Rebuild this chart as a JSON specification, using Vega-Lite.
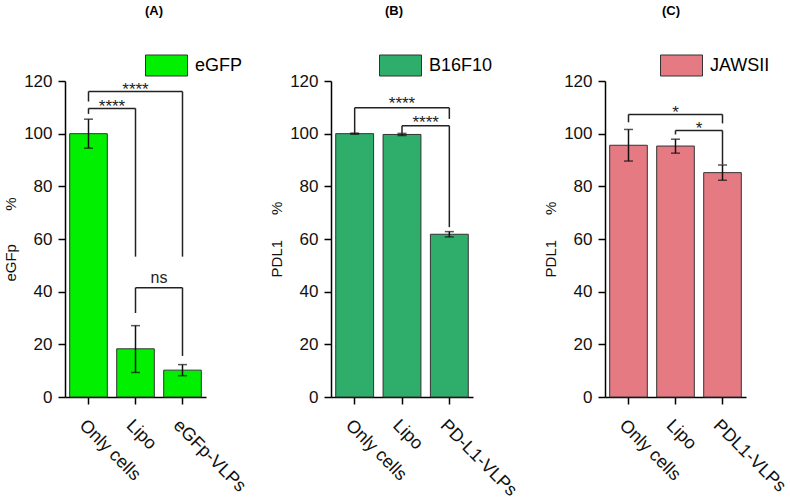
{
  "$schema": "https://vega.github.io/schema/vega-lite/v6.json",
  "padding": {"left": 3, "top": 5, "right": 5, "bottom": 5},
  "datasets": {
    "A_bars": [
      {"cat": "Only cells", "v": 100, "lo": 94.5, "hi": 105.5, "s": "eGFP"},
      {"cat": "Lipo", "v": 18.3, "lo": 9.3, "hi": 27.1, "s": "eGFP"},
      {"cat": "eGFp-VLPs", "v": 10.2, "lo": 8.1, "hi": 12.3, "s": "eGFP"}
    ],
    "A_h": [
      {"c1": "Only cells", "c2": "Lipo", "y": 109.6},
      {"c1": "Only cells", "c2": "eGFp-VLPs", "y": 116},
      {"c1": "Lipo", "c2": "eGFp-VLPs", "y": 41.5}
    ],
    "A_legs": [
      {"c": "Only cells", "y1": 107.5, "y2": 109.6},
      {"c": "Lipo", "y1": 53.3, "y2": 109.6},
      {"c": "Only cells", "y1": 112.2, "y2": 116},
      {"c": "eGFp-VLPs", "y1": 53.3, "y2": 116},
      {"c": "Lipo", "y1": 31.9, "y2": 41.5},
      {"c": "eGFp-VLPs", "y1": 15.6, "y2": 41.5}
    ],
    "A_text": [
      {"c": "Only cells", "pos": "between", "t": "****", "y": 110.3},
      {"c": "Lipo", "pos": "center", "t": "****", "y": 116.7},
      {"c": "Lipo", "pos": "between", "t": "ns", "y": 45.3}
    ],
    "B_bars": [
      {"cat": "Only cells", "v": 100, "lo": 99.8, "hi": 100.2, "s": "B16F10"},
      {"cat": "Lipo", "v": 99.7, "lo": 99.3, "hi": 100.1, "s": "B16F10"},
      {"cat": "PD-L1-VLPs", "v": 61.8, "lo": 60.8, "hi": 62.8, "s": "B16F10"}
    ],
    "B_h": [
      {"c1": "Only cells", "c2": "PD-L1-VLPs", "y": 109.8},
      {"c1": "Lipo", "c2": "PD-L1-VLPs", "y": 103}
    ],
    "B_legs": [
      {"c": "Only cells", "y1": 100.2, "y2": 109.8},
      {"c": "PD-L1-VLPs", "y1": 105.6, "y2": 109.8},
      {"c": "Lipo", "y1": 100.3, "y2": 103},
      {"c": "PD-L1-VLPs", "y1": 64.5, "y2": 103}
    ],
    "B_text": [
      {"c": "Lipo", "pos": "center", "t": "****", "y": 111.2},
      {"c": "Lipo", "pos": "between", "t": "****", "y": 103.9}
    ],
    "C_bars": [
      {"cat": "Only cells", "v": 95.6, "lo": 89.6, "hi": 101.6, "s": "JAWSII"},
      {"cat": "Lipo", "v": 95.3, "lo": 92.6, "hi": 97.9, "s": "JAWSII"},
      {"cat": "PDL1-VLPs", "v": 85.2, "lo": 82.3, "hi": 88.1, "s": "JAWSII"}
    ],
    "C_h": [
      {"c1": "Only cells", "c2": "PDL1-VLPs", "y": 107.3},
      {"c1": "Lipo", "c2": "PDL1-VLPs", "y": 101.2}
    ],
    "C_legs": [
      {"c": "Only cells", "y1": 104.3, "y2": 107.3},
      {"c": "PDL1-VLPs", "y1": 103.9, "y2": 107.3},
      {"c": "Lipo", "y1": 99.7, "y2": 101.2},
      {"c": "PDL1-VLPs", "y1": 88.3, "y2": 101.2}
    ],
    "C_text": [
      {"c": "Lipo", "pos": "center", "t": "*", "y": 107.8},
      {"c": "Lipo", "pos": "between", "t": "*", "y": 101.7}
    ]
  },
  "bounds": "flush",
  "spacing": 125,
  "resolve": {
    "scale": {"x": "independent", "y": "independent", "color": "independent"},
    "legend": {"color": "independent"}
  },
  "hconcat": [
    {
      "width": 141,
      "height": 316,
      "title": {"text": "(A)", "dx": 18.5},
      "layer": [
        {
          "data": {"name": "A_bars"},
          "mark": {"type": "bar", "stroke": "#333333", "strokeWidth": 1},
          "encoding": {
            "x": {"field": "cat", "type": "nominal", "scale": {"domain": ["Only cells", "Lipo", "eGFp-VLPs"], "paddingInner": 0.2, "paddingOuter": 0.1}, "title": null},
            "y": {"field": "v", "type": "quantitative", "scale": {"domain": [0, 120], "nice": false}, "title": "eGFp\u00a0\u00a0\u00a0\u00a0\u00a0\u00a0\u00a0\u00a0%", "axis": {"values": [0, 20, 40, 60, 80, 100, 120]}},
            "color": {"field": "s", "type": "nominal", "scale": {"range": ["#00F000"]}, "legend": {"title": null, "orient": "none", "legendX": 80, "legendY": -37}}
          }
        },
        {
          "data": {"name": "A_bars"},
          "mark": {"type": "rule", "color": "#111111", "strokeWidth": 1.5},
          "encoding": {"x": {"field": "cat", "type": "nominal", "title": null}, "y": {"field": "lo", "type": "quantitative", "title": "eGFp\u00a0\u00a0\u00a0\u00a0\u00a0\u00a0\u00a0\u00a0%"}, "y2": {"field": "hi"}}
        },
        {
          "data": {"name": "A_bars"},
          "mark": {"type": "tick", "orient": "horizontal", "size": 9, "thickness": 1.5, "color": "#111111"},
          "encoding": {"x": {"field": "cat", "type": "nominal", "title": null}, "y": {"field": "lo", "type": "quantitative", "title": "eGFp\u00a0\u00a0\u00a0\u00a0\u00a0\u00a0\u00a0\u00a0%"}}
        },
        {
          "data": {"name": "A_bars"},
          "mark": {"type": "tick", "orient": "horizontal", "size": 9, "thickness": 1.5, "color": "#111111"},
          "encoding": {"x": {"field": "cat", "type": "nominal", "title": null}, "y": {"field": "hi", "type": "quantitative", "title": "eGFp\u00a0\u00a0\u00a0\u00a0\u00a0\u00a0\u00a0\u00a0%"}}
        },
        {
          "data": {"name": "A_h"},
          "mark": {"type": "rule", "color": "#222222", "strokeWidth": 1.5},
          "encoding": {"x": {"field": "c1", "type": "nominal", "title": null}, "x2": {"field": "c2"}, "y": {"field": "y", "type": "quantitative", "title": "eGFp\u00a0\u00a0\u00a0\u00a0\u00a0\u00a0\u00a0\u00a0%"}}
        },
        {
          "data": {"name": "A_legs"},
          "mark": {"type": "rule", "color": "#222222", "strokeWidth": 1.5},
          "encoding": {"x": {"field": "c", "type": "nominal", "title": null}, "y": {"field": "y1", "type": "quantitative", "title": "eGFp\u00a0\u00a0\u00a0\u00a0\u00a0\u00a0\u00a0\u00a0%"}, "y2": {"field": "y2"}}
        },
        {
          "data": {"name": "A_text"},
          "transform": [{"filter": "datum.pos === 'center'"}],
          "mark": {"type": "text", "baseline": "middle", "font": "Liberation Sans", "fontSize": 17, "color": "#222222"},
          "encoding": {"x": {"field": "c", "type": "nominal", "title": null}, "y": {"field": "y", "type": "quantitative", "title": "eGFp\u00a0\u00a0\u00a0\u00a0\u00a0\u00a0\u00a0\u00a0%"}, "text": {"field": "t"}}
        },
        {
          "data": {"name": "A_text"},
          "transform": [{"filter": "datum.pos === 'between'"}],
          "mark": {"type": "text", "baseline": "middle", "font": "Liberation Sans", "color": "#222222"},
          "encoding": {"x": {"field": "c", "type": "nominal", "bandPosition": 1.125, "title": null}, "y": {"field": "y", "type": "quantitative", "title": "eGFp\u00a0\u00a0\u00a0\u00a0\u00a0\u00a0\u00a0\u00a0%"}, "text": {"field": "t"}, "size": {"condition": {"test": "datum.t === 'ns'", "value": 16}, "value": 17}}
        }
      ]
    },
    {
      "width": 149,
      "height": 316,
      "title": {"text": "(B)", "dx": -11.5},
      "layer": [
        {
          "data": {"name": "B_bars"},
          "mark": {"type": "bar", "stroke": "#333333", "strokeWidth": 1},
          "encoding": {
            "x": {"field": "cat", "type": "nominal", "scale": {"domain": ["Only cells", "Lipo", "PD-L1-VLPs"], "paddingInner": 0.2, "paddingOuter": 0.1, "range": [0, 142]}, "title": null},
            "y": {"field": "v", "type": "quantitative", "scale": {"domain": [0, 120], "nice": false}, "title": "PDL1\u00a0\u00a0\u00a0\u00a0\u00a0\u00a0%", "axis": {"values": [0, 20, 40, 60, 80, 100, 120]}},
            "color": {"field": "s", "type": "nominal", "scale": {"range": ["#2EAD6B"]}, "legend": {"title": null, "orient": "none", "legendX": 48, "legendY": -37}}
          }
        },
        {
          "data": {"name": "B_bars"},
          "mark": {"type": "rule", "color": "#111111", "strokeWidth": 1.5},
          "encoding": {"x": {"field": "cat", "type": "nominal", "title": null}, "y": {"field": "lo", "type": "quantitative", "title": "PDL1\u00a0\u00a0\u00a0\u00a0\u00a0\u00a0%"}, "y2": {"field": "hi"}}
        },
        {
          "data": {"name": "B_bars"},
          "mark": {"type": "tick", "orient": "horizontal", "size": 9, "thickness": 1.5, "color": "#111111"},
          "encoding": {"x": {"field": "cat", "type": "nominal", "title": null}, "y": {"field": "lo", "type": "quantitative", "title": "PDL1\u00a0\u00a0\u00a0\u00a0\u00a0\u00a0%"}}
        },
        {
          "data": {"name": "B_bars"},
          "mark": {"type": "tick", "orient": "horizontal", "size": 9, "thickness": 1.5, "color": "#111111"},
          "encoding": {"x": {"field": "cat", "type": "nominal", "title": null}, "y": {"field": "hi", "type": "quantitative", "title": "PDL1\u00a0\u00a0\u00a0\u00a0\u00a0\u00a0%"}}
        },
        {
          "data": {"name": "B_h"},
          "mark": {"type": "rule", "color": "#222222", "strokeWidth": 1.5},
          "encoding": {"x": {"field": "c1", "type": "nominal", "title": null}, "x2": {"field": "c2"}, "y": {"field": "y", "type": "quantitative", "title": "PDL1\u00a0\u00a0\u00a0\u00a0\u00a0\u00a0%"}}
        },
        {
          "data": {"name": "B_legs"},
          "mark": {"type": "rule", "color": "#222222", "strokeWidth": 1.5},
          "encoding": {"x": {"field": "c", "type": "nominal", "title": null}, "y": {"field": "y1", "type": "quantitative", "title": "PDL1\u00a0\u00a0\u00a0\u00a0\u00a0\u00a0%"}, "y2": {"field": "y2"}}
        },
        {
          "data": {"name": "B_text"},
          "transform": [{"filter": "datum.pos === 'center'"}],
          "mark": {"type": "text", "baseline": "middle", "font": "Liberation Sans", "fontSize": 17, "color": "#222222"},
          "encoding": {"x": {"field": "c", "type": "nominal", "title": null}, "y": {"field": "y", "type": "quantitative", "title": "PDL1\u00a0\u00a0\u00a0\u00a0\u00a0\u00a0%"}, "text": {"field": "t"}}
        },
        {
          "data": {"name": "B_text"},
          "transform": [{"filter": "datum.pos === 'between'"}],
          "mark": {"type": "text", "baseline": "middle", "font": "Liberation Sans", "fontSize": 17, "color": "#222222"},
          "encoding": {"x": {"field": "c", "type": "nominal", "bandPosition": 1.125, "title": null}, "y": {"field": "y", "type": "quantitative", "title": "PDL1\u00a0\u00a0\u00a0\u00a0\u00a0\u00a0%"}, "text": {"field": "t"}}
        }
      ]
    },
    {
      "width": 141,
      "height": 316,
      "title": {"text": "(C)", "dx": -4.5},
      "layer": [
        {
          "data": {"name": "C_bars"},
          "mark": {"type": "bar", "stroke": "#333333", "strokeWidth": 1},
          "encoding": {
            "x": {"field": "cat", "type": "nominal", "scale": {"domain": ["Only cells", "Lipo", "PDL1-VLPs"], "paddingInner": 0.2, "paddingOuter": 0.1}, "title": null},
            "y": {"field": "v", "type": "quantitative", "scale": {"domain": [0, 120], "nice": false}, "title": "PDL1\u00a0\u00a0\u00a0\u00a0\u00a0\u00a0%", "axis": {"values": [0, 20, 40, 60, 80, 100, 120]}},
            "color": {"field": "s", "type": "nominal", "scale": {"range": ["#E57A83"]}, "legend": {"title": null, "orient": "none", "legendX": 55, "legendY": -37}}
          }
        },
        {
          "data": {"name": "C_bars"},
          "mark": {"type": "rule", "color": "#111111", "strokeWidth": 1.5},
          "encoding": {"x": {"field": "cat", "type": "nominal", "title": null}, "y": {"field": "lo", "type": "quantitative", "title": "PDL1\u00a0\u00a0\u00a0\u00a0\u00a0\u00a0%"}, "y2": {"field": "hi"}}
        },
        {
          "data": {"name": "C_bars"},
          "mark": {"type": "tick", "orient": "horizontal", "size": 9, "thickness": 1.5, "color": "#111111"},
          "encoding": {"x": {"field": "cat", "type": "nominal", "title": null}, "y": {"field": "lo", "type": "quantitative", "title": "PDL1\u00a0\u00a0\u00a0\u00a0\u00a0\u00a0%"}}
        },
        {
          "data": {"name": "C_bars"},
          "mark": {"type": "tick", "orient": "horizontal", "size": 9, "thickness": 1.5, "color": "#111111"},
          "encoding": {"x": {"field": "cat", "type": "nominal", "title": null}, "y": {"field": "hi", "type": "quantitative", "title": "PDL1\u00a0\u00a0\u00a0\u00a0\u00a0\u00a0%"}}
        },
        {
          "data": {"name": "C_h"},
          "mark": {"type": "rule", "color": "#222222", "strokeWidth": 1.5},
          "encoding": {"x": {"field": "c1", "type": "nominal", "title": null}, "x2": {"field": "c2"}, "y": {"field": "y", "type": "quantitative", "title": "PDL1\u00a0\u00a0\u00a0\u00a0\u00a0\u00a0%"}}
        },
        {
          "data": {"name": "C_legs"},
          "mark": {"type": "rule", "color": "#222222", "strokeWidth": 1.5},
          "encoding": {"x": {"field": "c", "type": "nominal", "title": null}, "y": {"field": "y1", "type": "quantitative", "title": "PDL1\u00a0\u00a0\u00a0\u00a0\u00a0\u00a0%"}, "y2": {"field": "y2"}}
        },
        {
          "data": {"name": "C_text"},
          "transform": [{"filter": "datum.pos === 'center'"}],
          "mark": {"type": "text", "baseline": "middle", "font": "Liberation Sans", "fontSize": 17, "color": "#222222"},
          "encoding": {"x": {"field": "c", "type": "nominal", "title": null}, "y": {"field": "y", "type": "quantitative", "title": "PDL1\u00a0\u00a0\u00a0\u00a0\u00a0\u00a0%"}, "text": {"field": "t"}}
        },
        {
          "data": {"name": "C_text"},
          "transform": [{"filter": "datum.pos === 'between'"}],
          "mark": {"type": "text", "baseline": "middle", "font": "Liberation Sans", "fontSize": 17, "color": "#222222"},
          "encoding": {"x": {"field": "c", "type": "nominal", "bandPosition": 1.125, "title": null}, "y": {"field": "y", "type": "quantitative", "title": "PDL1\u00a0\u00a0\u00a0\u00a0\u00a0\u00a0%"}, "text": {"field": "t"}}
        }
      ]
    }
  ],
  "config": {
    "view": {"stroke": null},
    "font": "Liberation Sans",
    "axis": {
      "domainColor": "#000000", "domainWidth": 1.5,
      "tickColor": "#000000", "tickWidth": 1.5, "tickSize": 7,
      "labelFont": "Liberation Sans", "labelFontSize": 17, "labelColor": "#111111", "labelPadding": 6,
      "titleFont": "Liberation Sans", "titleFontSize": 15, "titleFontWeight": "normal", "titleColor": "#111111",
      "grid": false
    },
    "axisX": {"labelAngle": 45, "labelAlign": "left", "labelBaseline": "top", "labelPadding": 12, "labelFontSize": 18},
    "axisY": {"titlePadding": 5},
    "legend": {
      "symbolType": "M-1,-0.5H1V0.5H-1Z", "symbolSize": 1764,
      "symbolStrokeColor": "#333333", "symbolStrokeWidth": 1, "symbolOpacity": 1,
      "labelFont": "Liberation Sans", "labelFontSize": 18, "labelColor": "#000000", "labelOffset": 7,
      "padding": 0
    },
    "title": {"font": "Liberation Sans", "fontSize": 13, "fontWeight": "bold", "color": "#000000", "offset": 26, "anchor": "middle", "frame": "group"}
  }
}
